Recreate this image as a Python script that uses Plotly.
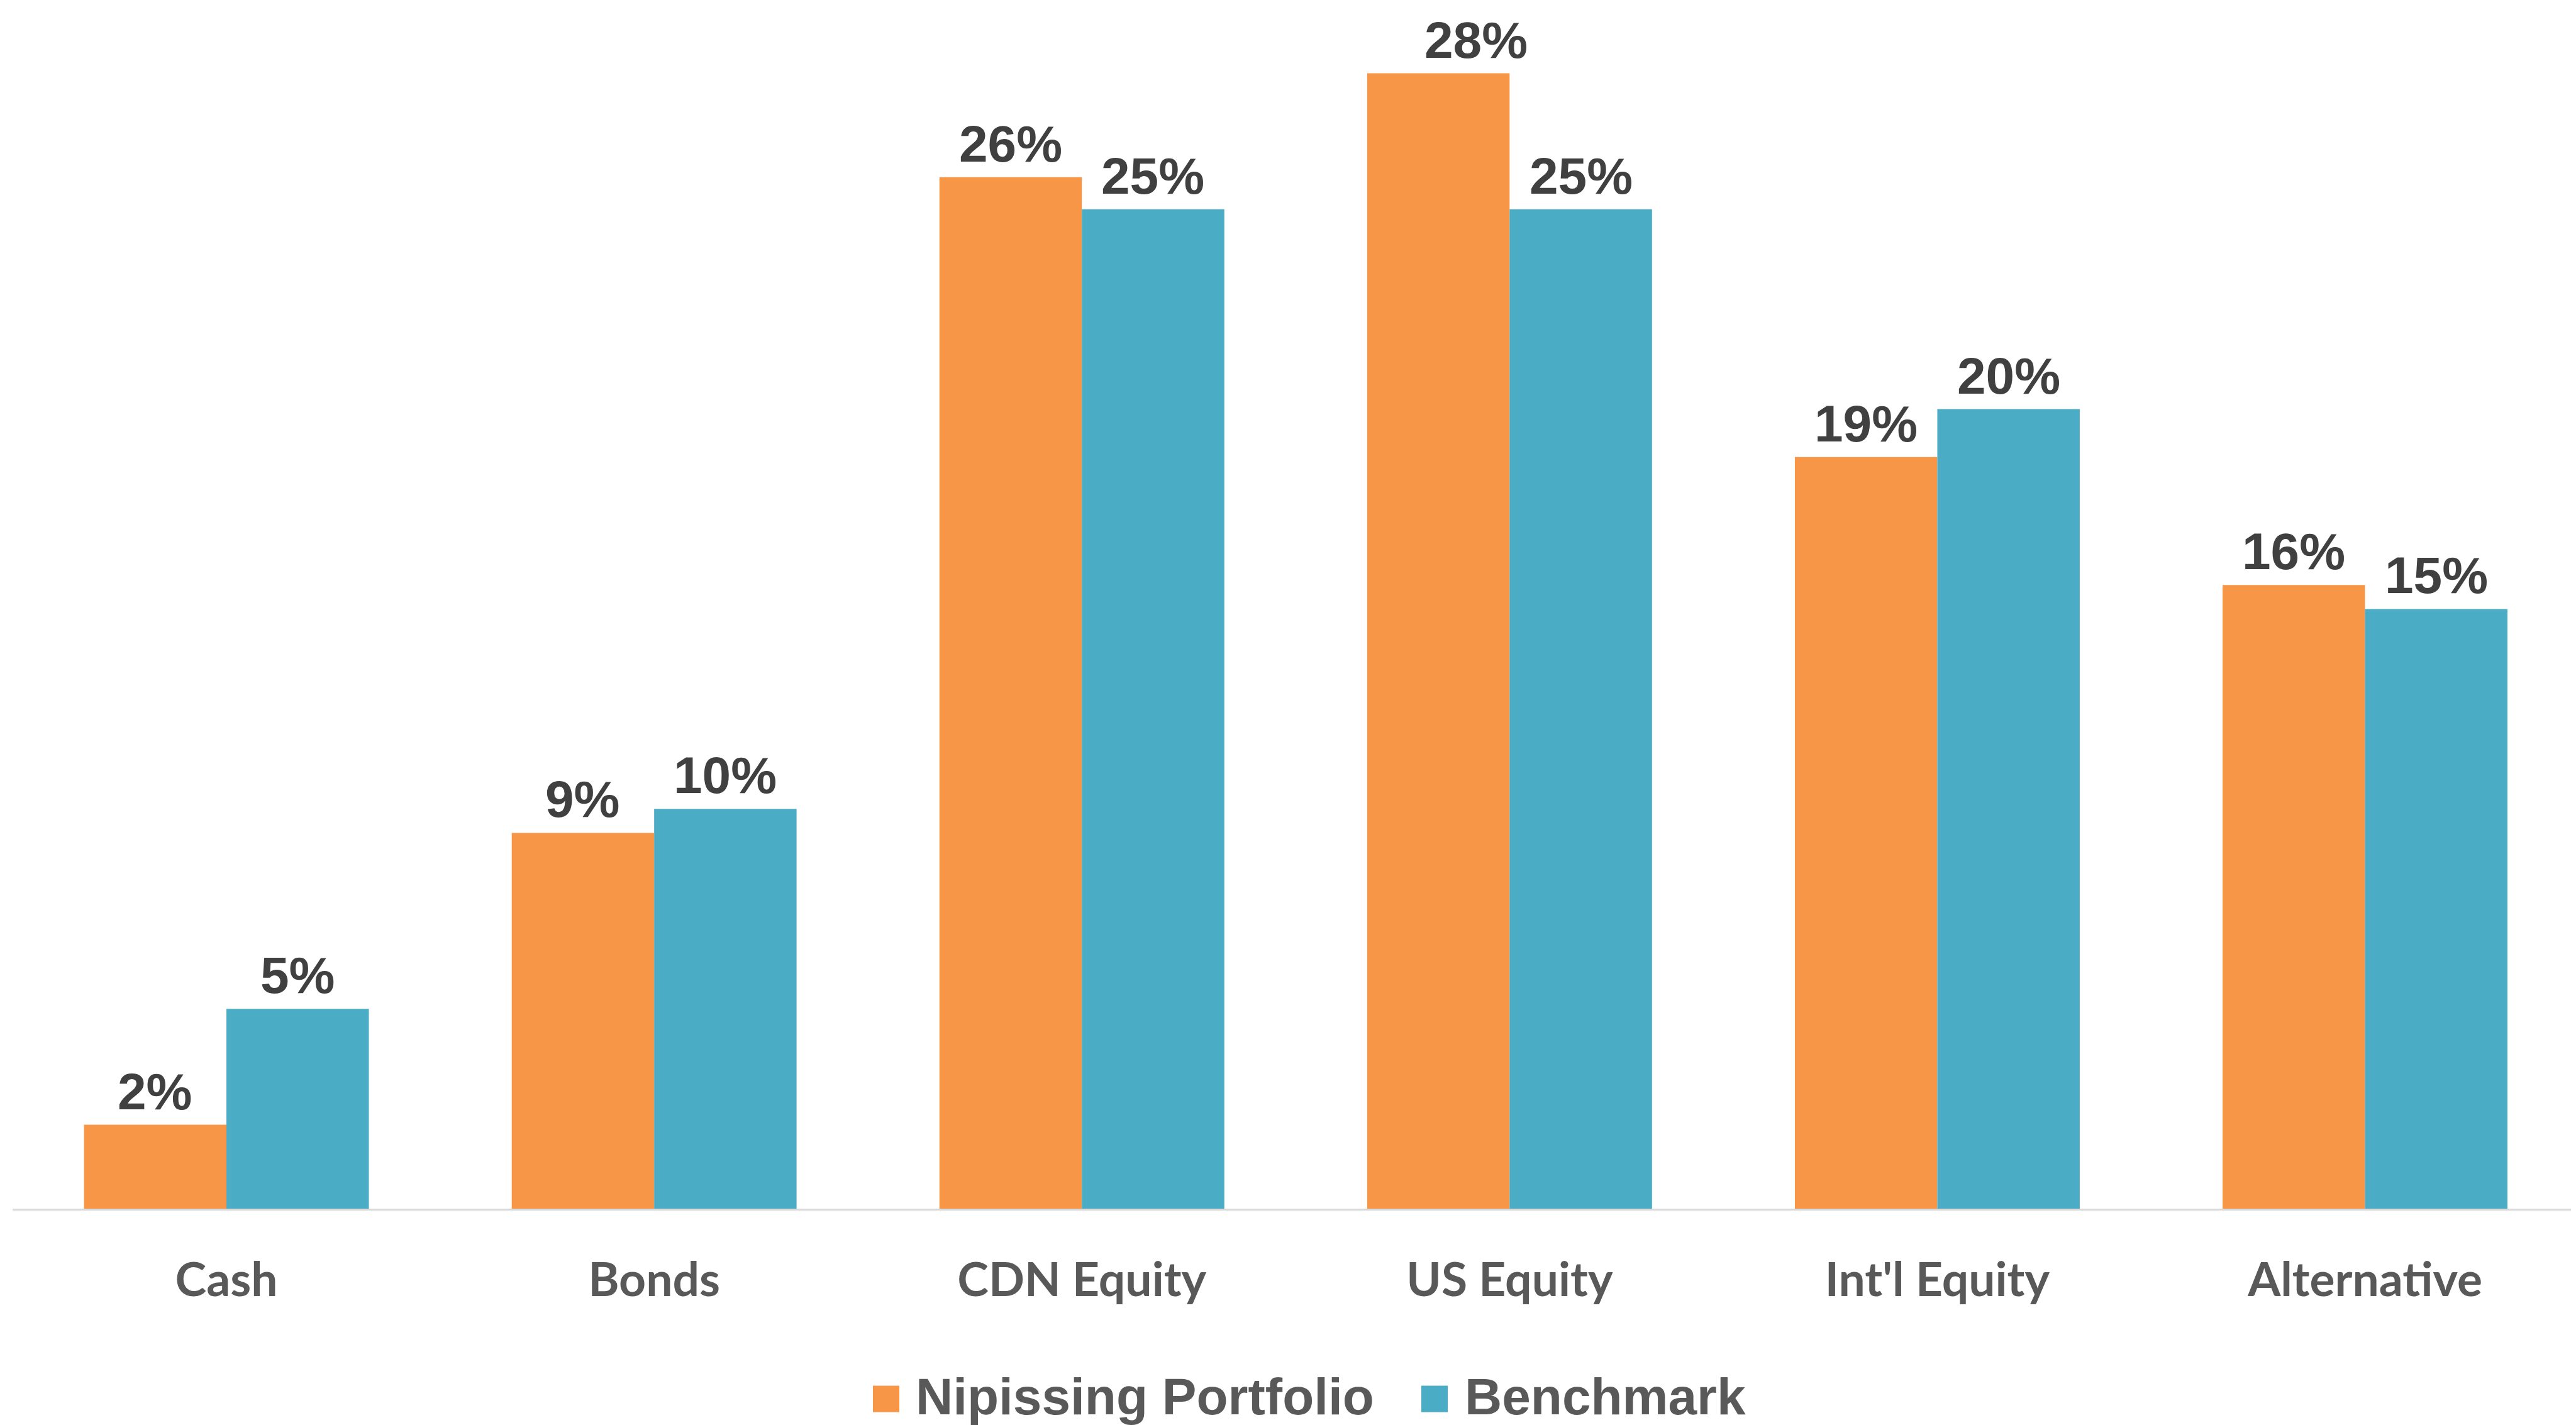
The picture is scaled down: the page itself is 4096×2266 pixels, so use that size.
import plotly.graph_objects as go

categories = ["Cash", "Bonds", "CDN Equity", "US Equity", "Int'l Equity", "Alternative"]
portfolio = [2.1, 9.4, 25.8, 28.4, 18.8, 15.6]
benchmark = [5.0, 10.0, 25.0, 25.0, 20.0, 15.0]
series_names = ["Nipissing Portfolio", "Benchmark"]
series_colors = ["#F79646", "#4BACC6"]
# extra horizontal nudge (px) of individual data labels, as in the original
label_nudge = [[0, 0, 0, 60, 0, 0], [0, 0, 0, 0, 0, 0]]

# the page body has an 8px default margin; the figure is sized to fit the window
OFF = 8
W, H = 4096 - OFF, 2266 - OFF
ML, MR, MT = 20 - OFF, 0, 0
BASE_Y = 1922.5 - OFF  # pixel y of the axis baseline (figure coords)
MB = H - BASE_Y
plot_h = BASE_Y - MT
per_pct = 63.59
ymax = plot_h / per_pct
plot_w = W - ML - MR
cat_px = 680.1
xmax = -0.5 + (4096 - 20) / cat_px
BARGAP = 0.334
half_bar = cat_px * (1 - BARGAP) / 4

label_font = dict(family="Liberation Sans", size=82, color="#404040", weight="bold")

fig = go.Figure()
annotations = []
for k, (name, vals, col) in enumerate(zip(series_names, [portfolio, benchmark], series_colors)):
    fig.add_trace(go.Bar(
        x=categories, y=vals, name=name, marker=dict(color=col, line=dict(width=0)),
        showlegend=False, hoverinfo="x+y",
    ))
    shift = -half_bar if k == 0 else half_bar
    for c, v, dx in zip(categories, vals, label_nudge[k]):
        annotations.append(dict(text=f"{v:.0f}%", x=c, y=v, xref="x", yref="y",
                                xshift=shift + dx, yshift=6, xanchor="center", yanchor="bottom",
                                showarrow=False, font=label_font))

def px2paper(px, py):
    return (px - ML) / plot_w, (BASE_Y - py) / plot_h

# manual legend (pixel positions in window coords)
legend_items = [(1388, 1454), (2260, 2327)]
sq = 42
cy_sq = 2225
cy_tx = 2221
shapes = []
for (sx, tx), name, col in zip(legend_items, series_names, series_colors):
    x0, y0 = px2paper(sx - OFF, cy_sq - OFF + sq / 2)
    x1, y1 = px2paper(sx - OFF + sq, cy_sq - OFF - sq / 2)
    shapes.append(dict(type="rect", xref="paper", yref="paper", x0=x0, x1=x1, y0=y0, y1=y1,
                       fillcolor=col, line=dict(width=0)))
    ax, ay = px2paper(tx - OFF, cy_tx - OFF)
    annotations.append(dict(text=name, xref="paper", yref="paper", x=ax, y=ay,
                            xanchor="left", yanchor="middle", showarrow=False,
                            font=dict(family="Liberation Sans", size=82, color="#595959", weight="bold")))

fig.update_layout(
    width=W, height=H,
    margin=dict(l=ML, r=MR, t=MT, b=MB, pad=0),
    paper_bgcolor="white", plot_bgcolor="white",
    barmode="group", bargap=BARGAP, bargroupgap=0,
    shapes=shapes, annotations=annotations,
    xaxis=dict(range=[-0.5, xmax], showline=True, linecolor="#D9D9D9", linewidth=2.5,
               ticks="", showgrid=False, zeroline=False, ticklabelstandoff=46,
               tickfont=dict(family="Lato", size=75, color="#595959", weight="bold")),
    yaxis=dict(range=[0, ymax], visible=False, showgrid=False, zeroline=False),
)

fig.write_html("out.html")
